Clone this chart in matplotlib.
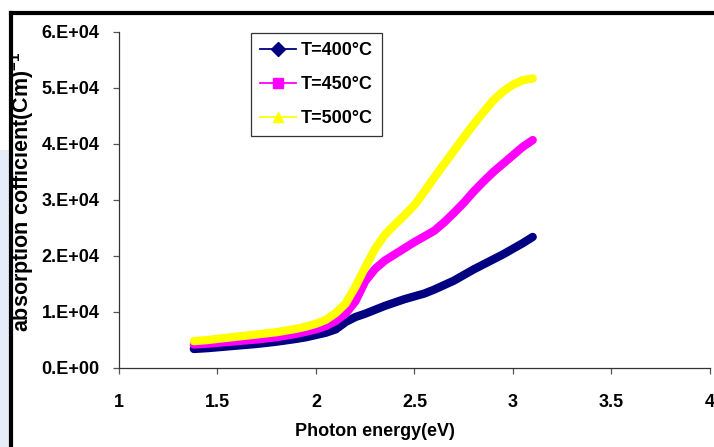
import matplotlib
matplotlib.use("Agg")
import matplotlib.pyplot as plt
from matplotlib.lines import Line2D
from matplotlib.patches import Rectangle

plt.rcParams['font.family'] = ['Liberation Sans', 'DejaVu Sans']
plt.rcParams['mathtext.fontset'] = 'custom'
plt.rcParams['mathtext.rm'] = 'Liberation Sans:bold'
plt.rcParams['mathtext.it'] = 'Liberation Sans:bold'
plt.rcParams['mathtext.bf'] = 'Liberation Sans:bold'

# ---- data ----
energy = [1.38, 1.45, 1.5, 1.55, 1.6, 1.65, 1.7, 1.75, 1.8, 1.85, 1.9, 1.95, 2.0,
          2.05, 2.1, 2.15, 2.2, 2.25, 2.3, 2.35, 2.4, 2.45, 2.5, 2.55, 2.6,
          2.65, 2.7, 2.75, 2.8, 2.85, 2.9, 2.95, 3.0, 3.05, 3.1]

alpha_400 = [3400, 3550, 3700, 3850, 4000, 4150, 4300, 4500, 4700, 4950, 5200, 5500, 5900,
             6300, 6900, 8200, 9100, 9700, 10400, 11100, 11700, 12300, 12800, 13300, 14000,
             14800, 15600, 16600, 17600, 18500, 19400, 20300, 21300, 22300, 23400]

alpha_450 = [4200, 4350, 4500, 4650, 4800, 4950, 5100, 5300, 5500, 5800, 6100, 6500, 6900,
             7500, 8400, 9700, 11900, 15500, 17700, 19200, 20300, 21400, 22500, 23500, 24500,
             26000, 27700, 29500, 31500, 33300, 35000, 36500, 38000, 39500, 40700]

alpha_500 = [4800, 5000, 5200, 5400, 5600, 5800, 6000, 6200, 6400, 6700, 7000, 7400, 7900,
             8600, 9800, 11500, 14500, 18000, 21300, 23800, 25600, 27300, 29100, 31500, 34000,
             36400, 38800, 41200, 43500, 45700, 47800, 49400, 50600, 51400, 51700]

series_labels = ['T=400°C', 'T=450°C', 'T=500°C']
series_colors = ['#000080', '#FF00FF', '#FFFF00']
series_markers = ['D', 's', '^']

x_ticks = [1, 1.5, 2, 2.5, 3, 3.5, 4]
x_tick_labels = ['1', '1.5', '2', '2.5', '3', '3.5', '4']
y_ticks = [0, 10000, 20000, 30000, 40000, 50000, 60000]
y_tick_labels = ['0.E+00', '1.E+04', '2.E+04', '3.E+04', '4.E+04', '5.E+04', '6.E+04']

# ---- figure ----
fig = plt.figure(figsize=(7.14, 4.47), dpi=100)

# faint bluish decoration on the left edge
fig.patches.append(Rectangle((0, 0), 10/714, 1-150/447, transform=fig.transFigure,
                             facecolor='#e4edf8', edgecolor='none', zorder=0))

ax = fig.add_axes([119/714, 1-368/447, (710-119)/714, (368-32)/447])

for ys, c in zip([alpha_400, alpha_450, alpha_500], series_colors):
    ax.plot(energy, ys, color=c, lw=6, solid_capstyle='round', solid_joinstyle='round')

ax.set_xlim(1, 4)
ax.set_ylim(0, 60000)
ax.set_xticks(x_ticks)
ax.set_xticklabels(x_tick_labels)
ax.set_yticks(y_ticks)
ax.set_yticklabels(y_tick_labels)

for s in ['top', 'right']:
    ax.spines[s].set_visible(False)
for s in ['left', 'bottom']:
    ax.spines[s].set_color('#333333')
    ax.spines[s].set_linewidth(0.9)

ax.tick_params(axis='x', direction='out', length=4, width=0.9, color='#555555',
               pad=15, labelsize=13)
ax.tick_params(axis='y', direction='out', length=4, width=0.9, color='#555555',
               pad=10, labelsize=13)
for lbl in ax.get_xticklabels() + ax.get_yticklabels():
    lbl.set_fontweight('bold')

handles = [Line2D([], [], color=c, marker=m, markersize=7, lw=1.3,
                  markerfacecolor=c, markeredgecolor=c)
           for c, m in zip(series_colors, series_markers)]
leg = ax.legend(handles, series_labels, loc='upper left',
                bbox_to_anchor=((251-119)/591, (368-33)/336),
                prop={'weight': 'bold', 'size': 13}, frameon=True, fancybox=False,
                edgecolor='#333333', framealpha=1, handlelength=2.0,
                borderpad=0.5, labelspacing=0.95, handletextpad=0.28, borderaxespad=0)
leg.get_frame().set_linewidth(0.9)

fig.text(375/714, 1-432/447, 'Photon energy(eV)', ha='center', va='center',
         fontsize=13, fontweight='bold')
fig.text(22/714, 1-192/447, r'absorption cofficient(Cm)$^{-1}$', ha='center', va='center',
         rotation=90, fontsize=15.5, fontweight='bold')

# outer frame (top and left thick borders)
fig.add_artist(Line2D([11/714, 1.0], [1-13/447, 1-13/447], transform=fig.transFigure,
                      color='black', lw=3))
fig.add_artist(Line2D([11/714, 11/714], [0, 1-13/447], transform=fig.transFigure,
                      color='black', lw=3))

fig.savefig('out.png', dpi=100)
